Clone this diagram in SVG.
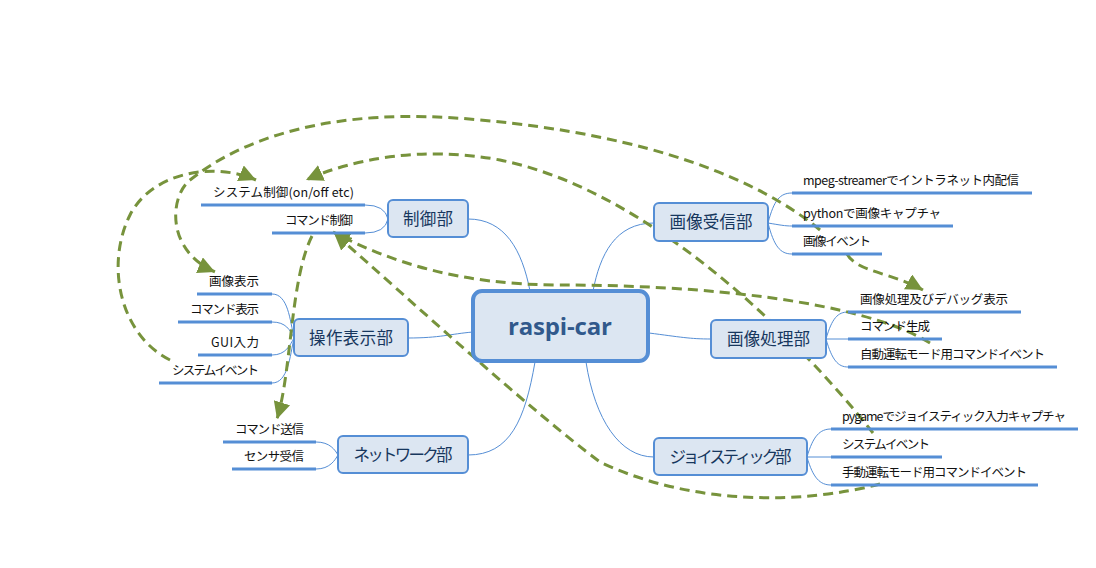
<svg xmlns="http://www.w3.org/2000/svg" width="1096" height="568" viewBox="0 0 1096 568">
<style>
.box{fill:#DCE6F2;stroke:#558ED5;stroke-width:2}
.main{fill:#DCE6F2;stroke:#558ED5;stroke-width:4}
.nt{font-family:"Noto Sans CJK JP","Noto Sans",sans-serif;font-size:16.5px;fill:#17375E;text-anchor:middle}
.mt{font-family:"Open Sans","Liberation Sans",sans-serif;font-size:24px;font-weight:bold;fill:#31598C;text-anchor:middle}
.lt{font-family:"Noto Sans CJK JP","Noto Sans",sans-serif;font-size:12.5px;fill:#111}
.le{text-anchor:end}
.ul{stroke:#558ED5;stroke-width:3;fill:none}
.br{stroke:#558ED5;stroke-width:1;fill:none}
.rel{stroke:#77933C;stroke-width:3;fill:none;stroke-dasharray:10 6;marker-end:url(#arr)}
</style>
<defs>
<marker id="arr" viewBox="0 0 10 10" refX="10" refY="5" markerWidth="17" markerHeight="17" markerUnits="userSpaceOnUse" orient="auto"><path d="M0,0 L10,5 L0,10 z" fill="#77933C"/></marker>
</defs>
<rect width="1096" height="568" fill="#fff"/>

<g id="connectors">
<path class="br" d="M468,219 C505,219 522,250 530,291"/>
<path class="br" d="M654,223 C615,223 600,255 593,291"/>
<path class="br" d="M408,338 C440,338 450,334 473,332"/>
<path class="br" d="M649,333 C680,337 690,339 711,339"/>
<path class="br" d="M535,362 C525,420 510,455 468,455"/>
<path class="br" d="M586,362 C595,420 620,457 654,457"/>
<path class="br" d="M365,205 Q385,205 388,219 Q385,233 365,233"/>
<path class="br" d="M272,294 C288,294 290,320 294,338"/>
<path class="br" d="M272,322 C286,322 290,330 294,338"/>
<path class="br" d="M272,355 C286,355 290,345 294,338"/>
<path class="br" d="M272,383 C288,383 290,356 294,338"/>
<path class="br" d="M316,442 C330,442 335,450 338,455"/>
<path class="br" d="M316,469 C330,469 335,460 338,455"/>
<path class="br" d="M768,223 C774,200 780,193 792,193"/>
<path class="br" d="M768,223 C780,225 785,226 792,226"/>
<path class="br" d="M768,223 C774,246 780,254 792,254"/>
<path class="br" d="M826,339 C832,318 838,312 848,312"/>
<path class="br" d="M826,339 L848,339"/>
<path class="br" d="M826,339 C832,360 838,367 848,367"/>
<path class="br" d="M807,457 C813,436 820,429 831,429"/>
<path class="br" d="M807,457 L831,457"/>
<path class="br" d="M807,457 C813,478 820,485 831,485"/>
<path class="rel" d="M170,360 C120,335 105,265 130,215 C150,175 210,160 256,180"/>
<path class="rel" d="M820,230 C760,180 650,135 480,120 C330,105 240,140 190,180 C170,196 165,250 215,272"/>
<path class="rel" d="M873,433 C800,340 650,190 500,160 C420,145 350,160 306,180"/>
<path class="rel" d="M930,343 C860,300 700,285 560,285 C460,285 390,262 333,232"/>
<path class="rel" d="M880,484 C800,505 690,505 600,462 C530,410 410,300 334,233"/>
<path class="rel" d="M312,236 C290,280 292,370 277,419"/>
<path class="rel" d="M847,254 C857,272 890,272 923,290"/>
</g>

<g id="root">
<rect class="main" x="473" y="291" width="175" height="70" rx="9"/>
<text class="mt" x="560" y="335" textLength="104">raspi-car</text>
</g>

<g id="seigyo">
<rect class="box" x="388" y="200" width="80" height="37" rx="5"/>
<text class="nt" x="428" y="225" textLength="50">制御部</text>
</g>
<g id="sousa">
<rect class="box" x="294" y="319" width="114" height="37" rx="5"/>
<text class="nt" x="351" y="344" textLength="84">操作表示部</text>
</g>
<g id="network">
<rect class="box" x="338" y="436" width="130" height="37" rx="5"/>
<text class="nt" x="403" y="461" textLength="99">ネットワーク部</text>
</g>
<g id="jushin">
<rect class="box" x="654" y="203" width="114" height="38" rx="5"/>
<text class="nt" x="711" y="228" textLength="83">画像受信部</text>
</g>
<g id="shori">
<rect class="box" x="711" y="320" width="115" height="38" rx="5"/>
<text class="nt" x="768.5" y="345" textLength="83">画像処理部</text>
</g>
<g id="joy">
<rect class="box" x="654" y="438" width="153" height="37" rx="5"/>
<text class="nt" x="730.5" y="463" textLength="122">ジョイスティック部</text>
</g>

<g id="leaf-sysctl"><line class="ul" x1="201" y1="205" x2="365" y2="205"/><text class="lt le" x="354" y="197" textLength="141">システム制御(on/off etc)</text></g>
<g id="leaf-cmdctl"><line class="ul" x1="272" y1="233" x2="365" y2="233"/><text class="lt le" x="353" y="225" textLength="68">コマンド制御</text></g>
<g id="leaf-imgdisp"><line class="ul" x1="197" y1="294" x2="272" y2="294"/><text class="lt le" x="259" y="286" textLength="50">画像表示</text></g>
<g id="leaf-cmddisp"><line class="ul" x1="178" y1="322" x2="272" y2="322"/><text class="lt le" x="259" y="314" textLength="69">コマンド表示</text></g>
<g id="leaf-gui"><line class="ul" x1="198" y1="355" x2="272" y2="355"/><text class="lt le" x="259" y="347" textLength="48">GUI入力</text></g>
<g id="leaf-sysev1"><line class="ul" x1="159" y1="383" x2="272" y2="383"/><text class="lt le" x="259" y="375" textLength="87">システムイベント</text></g>
<g id="leaf-cmdsend"><line class="ul" x1="223" y1="442" x2="316" y2="442"/><text class="lt le" x="304" y="434" textLength="69">コマンド送信</text></g>
<g id="leaf-sensor"><line class="ul" x1="232" y1="469" x2="316" y2="469"/><text class="lt le" x="304" y="461" textLength="60">センサ受信</text></g>

<g id="leaf-mpeg"><line class="ul" x1="792" y1="193" x2="1032" y2="193"/><text class="lt" x="803" y="185" textLength="216">mpeg-streamerでイントラネット内配信</text></g>
<g id="leaf-python"><line class="ul" x1="792" y1="226" x2="953" y2="226"/><text class="lt" x="803" y="218" textLength="138">pythonで画像キャプチャ</text></g>
<g id="leaf-imgev"><line class="ul" x1="792" y1="254" x2="882" y2="254"/><text class="lt" x="803" y="246" textLength="68">画像イベント</text></g>
<g id="leaf-debug"><line class="ul" x1="848" y1="312" x2="1021" y2="312"/><text class="lt" x="860" y="304" textLength="148">画像処理及びデバッグ表示</text></g>
<g id="leaf-cmdgen"><line class="ul" x1="848" y1="339" x2="942" y2="339"/><text class="lt" x="860" y="331" textLength="70">コマンド生成</text></g>
<g id="leaf-auto"><line class="ul" x1="848" y1="367" x2="1057" y2="367"/><text class="lt" x="860" y="359" textLength="185">自動運転モード用コマンドイベント</text></g>
<g id="leaf-pygame"><line class="ul" x1="831" y1="429" x2="1078" y2="429"/><text class="lt" x="842" y="421" textLength="224">pygameでジョイスティック入力キャプチャ</text></g>
<g id="leaf-sysev2"><line class="ul" x1="831" y1="457" x2="942" y2="457"/><text class="lt" x="842" y="449" textLength="88">システムイベント</text></g>
<g id="leaf-manual"><line class="ul" x1="831" y1="485" x2="1038" y2="485"/><text class="lt" x="842" y="477" textLength="185">手動運転モード用コマンドイベント</text></g>
</svg>
